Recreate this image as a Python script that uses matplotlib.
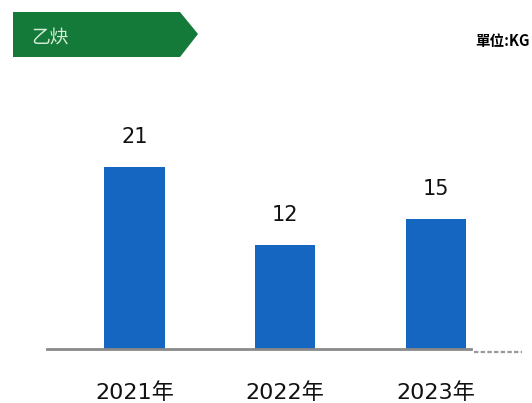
import matplotlib
matplotlib.use("Agg")
import matplotlib.pyplot as plt
from matplotlib.patches import Polygon

plt.rcParams['font.family'] = ['DejaVu Sans', 'Noto Sans CJK TC']

years = ['2021年', '2022年', '2023年']
values = [21, 12, 15]
title = '乙炔'
unit = '單位:KG'

fig = plt.figure(figsize=(5.32, 4.03), dpi=100)
W, H = 532, 403

# green tag header
tag = Polygon([(13 / W, 1 - 12 / H), (180 / W, 1 - 12 / H), (198 / W, 1 - 34 / H),
               (180 / W, 1 - 57 / H), (13 / W, 1 - 57 / H)],
              closed=True, transform=fig.transFigure, facecolor='#147a3a',
              edgecolor='none')
fig.patches.append(tag)
fig.text(31 / W, 1 - 38 / H, title, color='#d8ecd8', fontsize=13.5,
         va='center', ha='left', family=['Noto Sans CJK TC'])
fig.text(530 / W, 1 - 41 / H, unit, color='black', fontsize=10.5,
         fontweight='bold', va='center', ha='right',
         family=['Noto Sans CJK TC'])

ax = fig.add_axes([47 / W, 54 / H, 475 / W, 249 / H])
x = range(len(values))
bars = ax.bar(x, values, width=0.40, color='#1466c1', zorder=2)
for b, v in zip(bars, values):
    ax.annotate(str(v), (b.get_x() + b.get_width() / 2, v), xytext=(0, 14),
                textcoords='offset points', ha='center', va='bottom',
                fontsize=15, color='#111111')

ax.set_xlim(-0.58, 2.57)
ax.set_ylim(0, 28.7)
# baseline, with the dashed tail past the last bar
ax.plot([-0.58, 2.23], [0, 0], color='#8a8a8a', lw=2, zorder=3, clip_on=False)
ax.plot([2.25, 2.57], [-0.3, -0.3], color='#9a9a9a', lw=1.6, ls=(0, (2, 1)),
        zorder=3, clip_on=False)

ax.set_xticks(list(x))
ax.set_xticklabels(years, fontsize=16, color='#111111')
ax.tick_params(axis='x', length=0, pad=24)
ax.set_yticks([])
for s in ax.spines.values():
    s.set_visible(False)
ax.patch.set_alpha(0)

fig.savefig('out.png', dpi=100)
